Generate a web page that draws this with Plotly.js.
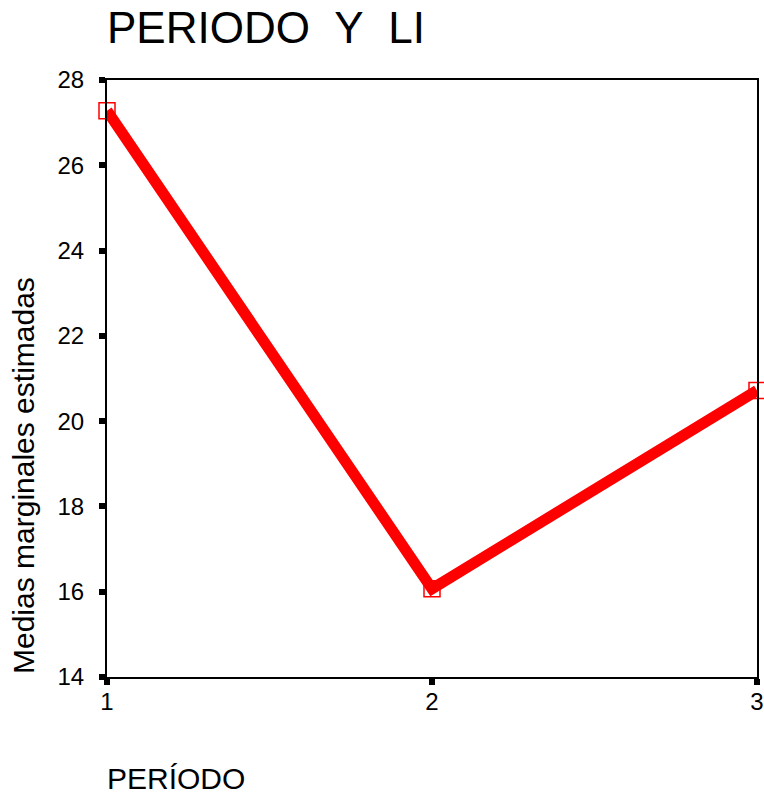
<!DOCTYPE html>
<html>
<head>
<meta charset="utf-8">
<script src="https://cdn.plot.ly/plotly-3.0.1.min.js"></script>
<style>body{margin:0;padding:0;background:#fff;}</style>
</head>
<body>
<div id="chart" style="width:764px;height:796px;"></div>
<script>
const periods = [1, 2, 3];
const means = [27.28, 16.07, 20.72];
const yTicks = [14, 16, 18, 20, 22, 24, 26, 28];
const xTicks = [1, 2, 3];
const chartTitle = "PERIODO\u00A0\u00A0Y\u00A0\u00A0LI";
const xTitle = "PERÍODO";
const yTitle = "Medias marginales estimadas";

const font = "Arial, 'Liberation Sans', sans-serif";

const trace = {
  x: periods,
  y: means,
  type: "scatter",
  mode: "lines+markers",
  line: {color: "#ff0000", width: 11},
  marker: {symbol: "square-open", size: 16, color: "#ff0000", line: {color: "#ff0000", width: 1.5}},
  cliponaxis: false,
  hoverinfo: "skip"
};

const layout = {
  width: 764,
  height: 796,
  margin: {l: 107, r: 7, t: 80, b: 119, pad: 0},
  paper_bgcolor: "#ffffff",
  plot_bgcolor: "#ffffff",
  showlegend: false,
  font: {family: font, color: "#000000"},
  xaxis: {
    range: [1, 3],
    tickvals: xTicks,
    ticktext: xTicks.map(String),
    ticks: "outside",
    ticklen: 6,
    tickwidth: 6,
    tickcolor: "#000000",
    showline: true,
    linecolor: "#000000",
    linewidth: 2,
    mirror: true,
    showgrid: false,
    zeroline: false,
    tickfont: {family: font, size: 24, color: "#000000"},
    ticklabelstandoff: -4
  },
  yaxis: {
    range: [14, 28],
    tickvals: yTicks,
    ticktext: yTicks.map(String),
    ticks: "outside",
    ticklen: 6,
    tickwidth: 6,
    tickcolor: "#000000",
    showline: true,
    linecolor: "#000000",
    linewidth: 2,
    mirror: true,
    showgrid: false,
    zeroline: false,
    tickfont: {family: font, size: 24, color: "#000000"},
    ticklabelstandoff: 10
  },
  annotations: [
    {
      text: chartTitle, xref: "paper", yref: "paper",
      x: -0.003, y: 1 + (80 - 27) / 597, xanchor: "left", yanchor: "middle",
      showarrow: false, font: {family: font, size: 44, color: "#000000"}
    },
    {
      text: xTitle, xref: "paper", yref: "paper",
      x: -0.003, y: -(778 - 677) / 597, xanchor: "left", yanchor: "middle",
      showarrow: false, font: {family: font, size: 30, color: "#000000"}
    },
    {
      text: yTitle, xref: "paper", yref: "paper",
      x: -(107 - 23) / 650, y: (677 - 476) / 597, xanchor: "center", yanchor: "middle",
      textangle: -90,
      showarrow: false, font: {family: font, size: 30, color: "#000000"}
    }
  ]
};

Plotly.newPlot("chart", [trace], layout, {staticPlot: true, displayModeBar: false});
</script>
</body>
</html>
